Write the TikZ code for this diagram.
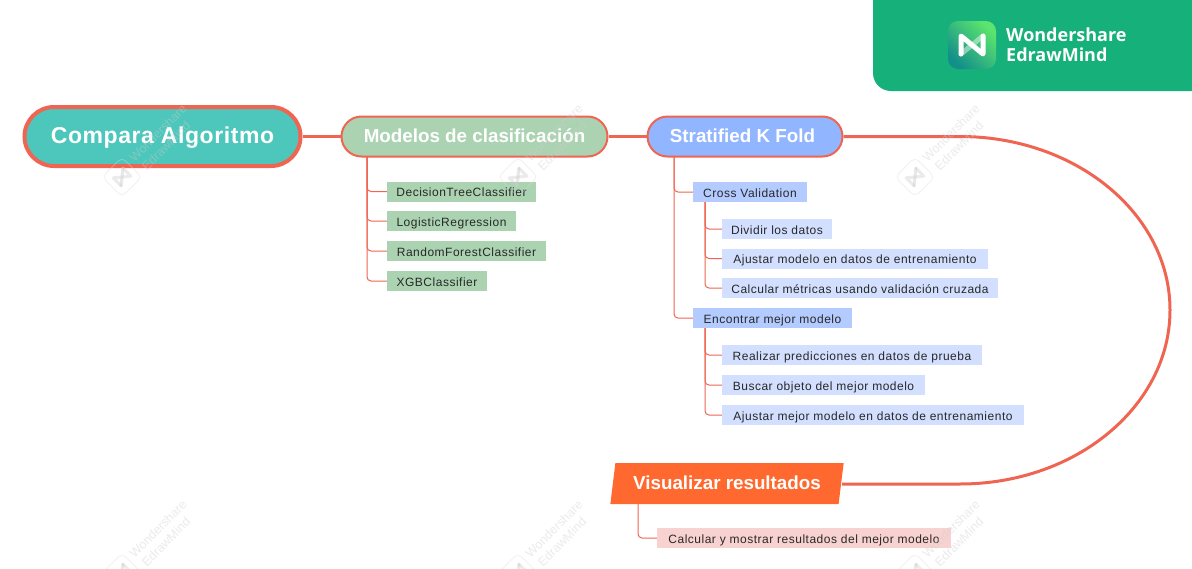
\documentclass[tikz,border=0pt]{standalone}
\usepackage{fontspec}
\setmainfont{Liberation Sans}
\newfontfamily\leaffont[LetterSpace=4.2]{Liberation Sans}
\newfontfamily\rootfont[LetterSpace=2.5]{Liberation Sans}
\newfontfamily\brandfont{Open Sans}
\usepackage{xcolor}
\definecolor{coral}{RGB}{240,101,82}
\definecolor{teal}{RGB}{77,199,187}
\definecolor{sage}{RGB}{171,211,178}
\definecolor{sky}{RGB}{145,181,255}
\definecolor{skymid}{RGB}{179,203,255}
\definecolor{skylight}{RGB}{210,223,255}
\definecolor{flame}{RGB}{255,104,46}
\definecolor{blush}{RGB}{248,210,208}
\definecolor{brand}{RGB}{22,176,123}
\definecolor{brandtop}{RGB}{91,229,110}
\definecolor{brandlow}{RGB}{19,143,138}
\definecolor{ink}{RGB}{40,40,40}
\definecolor{wmgrey}{RGB}{205,205,205}
\usetikzlibrary{shapes.geometric,shapes.misc}
\tikzset{
  head/.style={draw=coral,line width=2pt,rounded rectangle,inner sep=0pt,
    minimum height=40pt,text=white,text height=14pt,text depth=3pt,
    font=\fontsize{18.8}{20}\selectfont\bfseries},
  leaf/.style={inner sep=0pt,minimum height=20pt,text=ink,text height=10pt,text depth=0pt,
    font=\leaffont\fontsize{12}{14}\selectfont},
  link/.style={draw=coral,line width=3pt},
  twig/.style={draw=coral,line width=1pt,rounded corners=4pt},
}
\newcommand{\logostrokes}[2]{%
  \draw[#1,line width=#2,line join=round,line cap=round] (-11,9) -- (-11,-9) -- (11,9) -- (11,-9);
  \draw[#1,opacity=0.45,line width=#2,line cap=round] (-11,9) -- (0,0) -- (11,-9);
}
\begin{document}
\begin{tikzpicture}[x=1pt,y=-1pt]
\clip (0,0) rectangle (1192,568);
\fill[white] (0,0) rectangle (1192,568);
\fill[brand] (873,-30) -- (1222,-30) -- (1222,91) -- (891,91)
  .. controls (881,91) and (873,83) .. (873,73) -- cycle;
\node[rounded corners=10pt,minimum width=48pt,minimum height=48pt,inner sep=0pt,
      left color=brandtop,right color=brandlow,shading angle=-45] (applogo) at (972,45) {};
\begin{scope}[shift={(applogo.center)}]
  \logostrokes{white}{5pt}
\end{scope}
\node[anchor=west,inner sep=0pt,text=white,align=left,
      font=\brandfont\fontsize{18}{20}\selectfont\bfseries] (brandname) at (1006,45) {Wondershare\\EdrawMind};

\node[draw=coral,line width=4pt,rounded rectangle,minimum width=276pt,minimum height=59pt,inner sep=0pt,
      fill=teal,text=white,text height=17pt,text depth=3pt,
      font=\rootfont\fontsize{23}{26}\selectfont\bfseries] (compara) at (162.5,136.5) {Compara Algoritmo};
\node[head,fill=sage,minimum width=266pt] (modelos) at (474.5,136.5) {Modelos de clasificación};
\node[head,fill=sky,minimum width=195pt] (stratified) at (745,136.5) {Stratified K Fold\kern5pt};
\node[trapezium,trapezium left angle=76,trapezium right angle=104,trapezium stretches=true,
      minimum width=234pt,minimum height=41pt,inner sep=0pt,fill=flame,text=white,text height=14pt,text depth=3pt,
      font=\fontsize{18.8}{20}\selectfont\bfseries] (visualizar) at (727,483.5) {Visualizar resultados};

\node[leaf,fill=sage,minimum width=149pt] (dtree) at (461.5,191.5) {DecisionTreeClassifier};
\node[leaf,fill=sage,minimum width=129pt] (logreg) at (451.5,221) {LogisticRegression};
\node[leaf,fill=sage,minimum width=159pt] (rforest) at (466.5,251) {RandomForestClassifier};
\node[leaf,fill=sage,minimum width=100pt] (xgb) at (437,281) {XGBClassifier};

\node[leaf,fill=skymid,minimum width=114pt] (crossval) at (750,192) {Cross Validation};
\node[leaf,fill=skylight,minimum width=110pt] (dividir) at (777,229) {Dividir los datos};
\node[leaf,fill=skylight,minimum width=266pt] (ajustar) at (855,258.5) {Ajustar modelo en datos de entrenamiento};
\node[leaf,fill=skylight,minimum width=276pt] (calcular) at (860,288) {Calcular métricas usando validación cruzada};
\node[leaf,fill=skymid,minimum width=159pt] (encontrar) at (772.5,318) {Encontrar mejor modelo};
\node[leaf,fill=skylight,minimum width=260pt] (realizar) at (852,355) {Realizar predicciones en datos de prueba};
\node[leaf,fill=skylight,minimum width=203pt] (buscar) at (823.5,385) {Buscar objeto del mejor modelo};
\node[leaf,fill=skylight,minimum width=302pt] (ajustarmejor) at (873,415) {Ajustar mejor modelo en datos de entrenamiento};
\node[leaf,fill=blush,minimum width=294pt] (mostrar) at (804,538) {Calcular y mostrar resultados del mejor modelo};

\coordinate (bendtop) at (960,136.5);
\coordinate (bendside) at (1170,310);
\coordinate (bendlow) at (960,484);
\coordinate (visualend) at (842,484);
\coordinate (modelostrunk) at (367,157);
\coordinate (stratifiedtrunk) at (674,157);
\coordinate (crosstrunk) at (705,202);
\coordinate (encontrartrunk) at (705,328);
\coordinate (visualtrunk) at (638,504);

\draw[link] (compara.east) -- (modelos.west);
\draw[link] (modelos.east) -- (stratified.west);
\draw[link] (stratified.east) -- (bendtop) .. controls (1076,136.5) and (1170,214) .. (bendside)
  .. controls (1170,406) and (1076,484) .. (bendlow) -- (visualend);
\foreach \kid in {dtree,logreg,rforest,xgb}
  \draw[twig] (modelostrunk) |- (\kid.west);
\foreach \kid in {crossval,encontrar}
  \draw[twig] (stratifiedtrunk) |- (\kid.west);
\foreach \kid in {dividir,ajustar,calcular}
  \draw[twig] (crosstrunk) |- (\kid.west);
\foreach \kid in {realizar,buscar,ajustarmejor}
  \draw[twig] (encontrartrunk) |- (\kid.west);
\draw[twig] (visualtrunk) |- (mostrar.west);

\foreach \wx/\wy in {122/177,518/177,915/177,122/573,518/573,915/573}{
  \begin{scope}[shift={(\wx,\wy)},opacity=0.4]
    \node[draw=wmgrey!70,line width=0.8pt,rounded corners=5pt,rotate=45,minimum width=28pt,minimum height=28pt,
          inner sep=0pt] (wmicon\wx\wy) at (0,0) {};
    \begin{scope}[rotate=45,scale=0.62]
      \logostrokes{wmgrey}{3pt}
    \end{scope}
    \node[rotate=45,text=wmgrey,inner sep=0pt,font=\fontsize{12.5}{14}\selectfont] (wmtop\wx\wy) at (36,-44) {Wondershare};
    \node[rotate=45,text=wmgrey,inner sep=0pt,font=\fontsize{12.5}{14}\selectfont] (wmlow\wx\wy) at (44,-31) {EdrawMind};
  \end{scope}
}
\end{tikzpicture}
\end{document}
